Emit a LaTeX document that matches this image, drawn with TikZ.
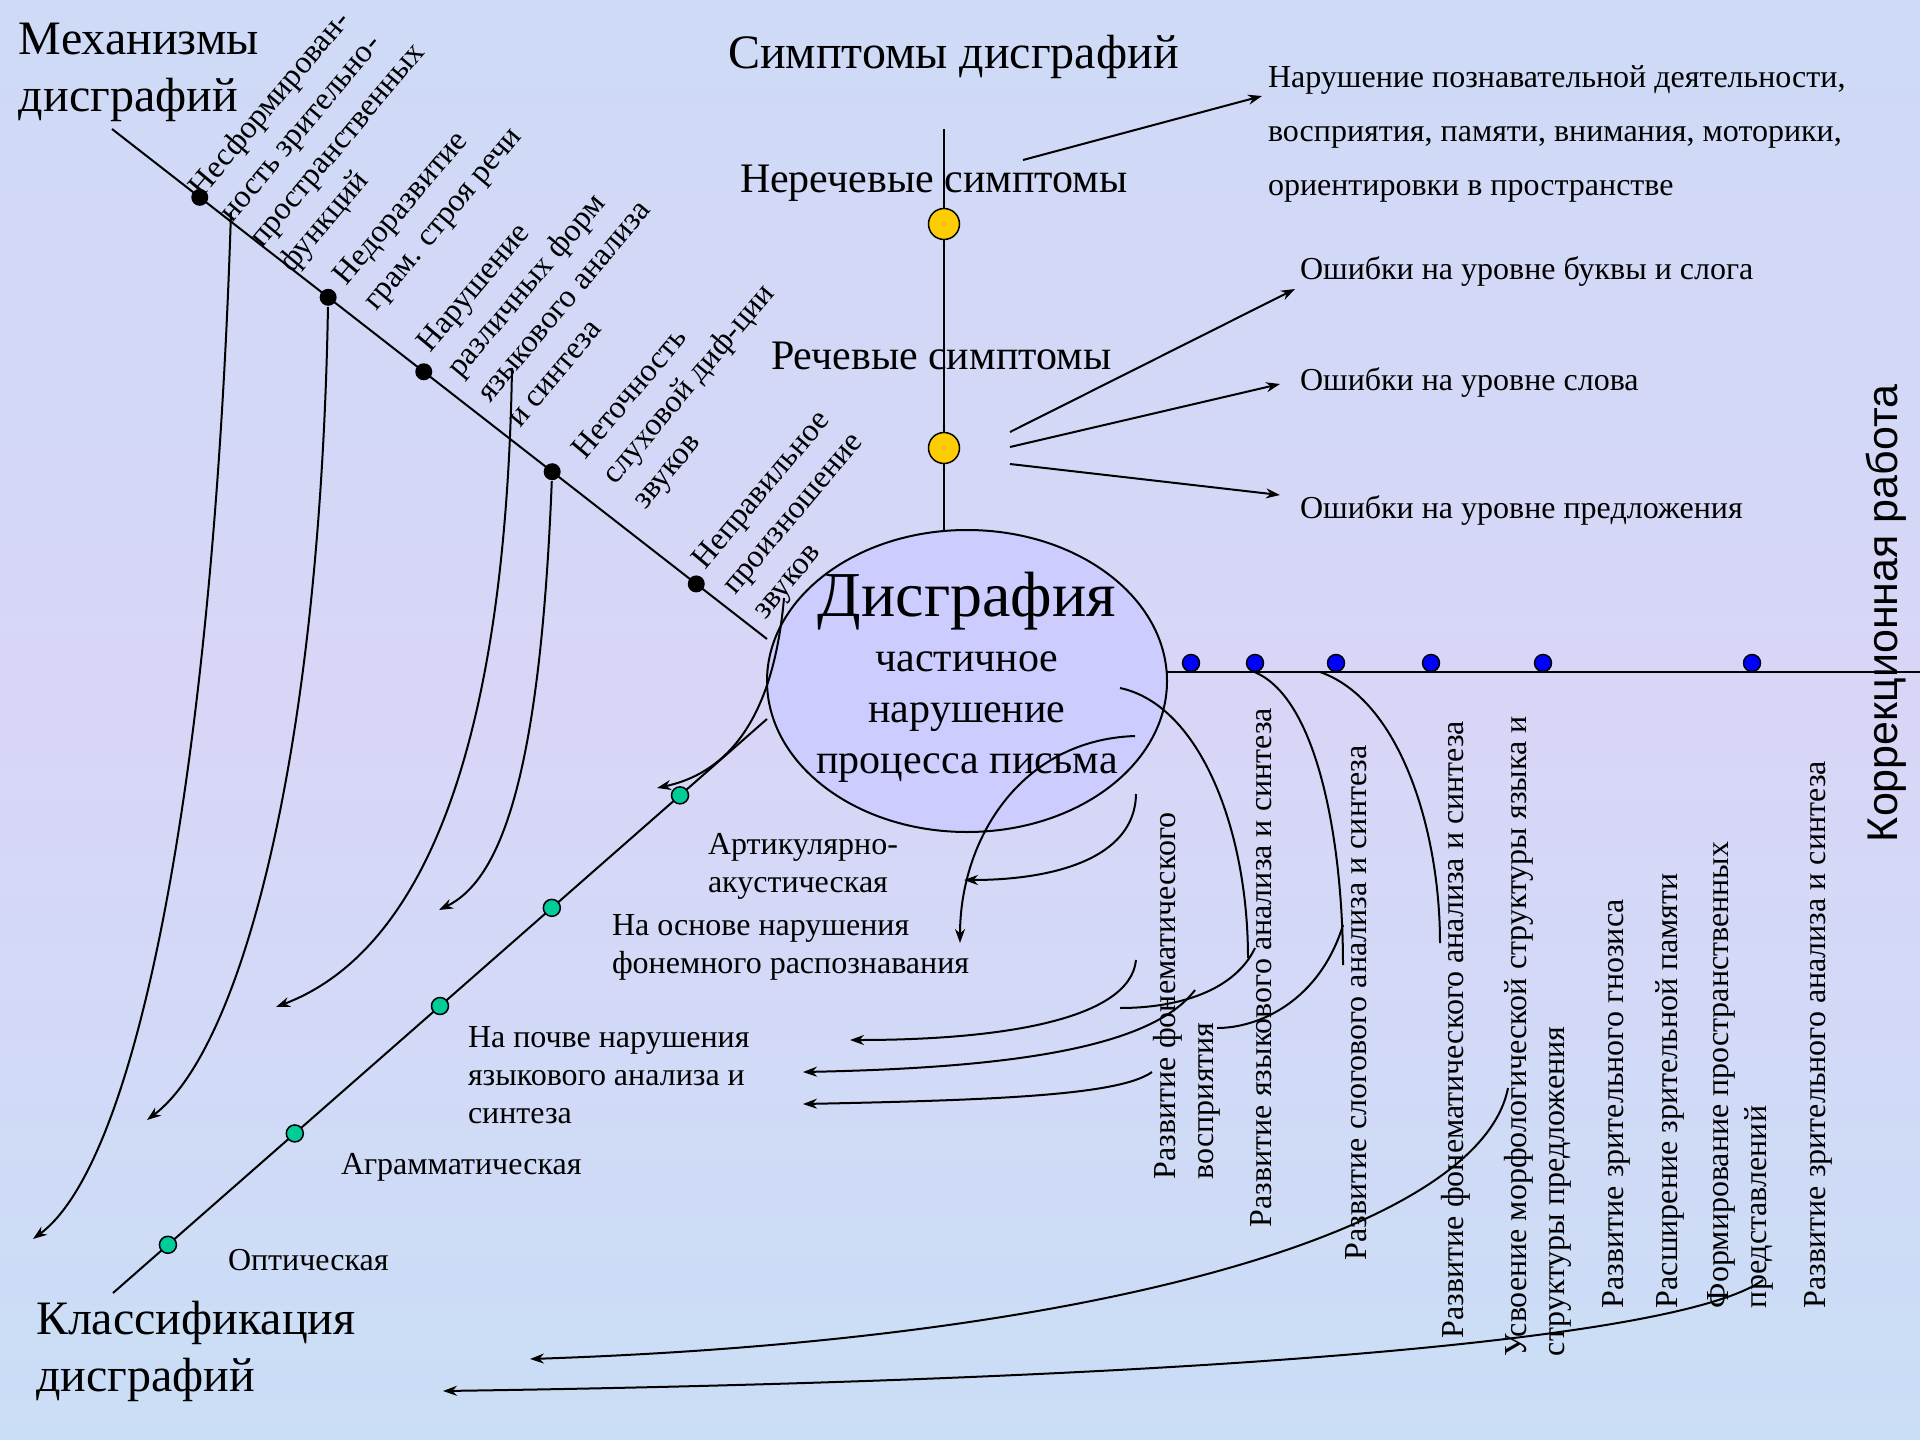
\documentclass[tikz,border=0pt]{standalone}
\usepackage{fontspec}
\setmainfont{Liberation Serif}
\newfontfamily\arialfont{Liberation Sans}
\usetikzlibrary{arrows.meta}
\usetikzlibrary{shapes.geometric}
\definecolor{bgtop}{RGB}{206,218,246}
\definecolor{bgmid}{RGB}{216,214,247}
\definecolor{bgbot}{RGB}{202,222,246}
\definecolor{lilac}{RGB}{204,204,255}
\definecolor{gold}{RGB}{255,204,0}
\definecolor{mint}{RGB}{0,204,153}
\tikzset{blackdot/.style = {circle, fill=black, inner sep=0pt, minimum size=17pt},
         greendot/.style = {circle, draw=black, line width=1.5pt, fill=mint, inner sep=0pt, minimum size=17pt},
         bluedot/.style = {circle, draw=black, line width=1.5pt, fill=blue, inner sep=0pt, minimum size=17pt},
         yellowdot/.style = {circle, draw=black, line width=1.5pt, fill=gold, inner sep=0pt, minimum size=31pt},
         title/.style = {inner sep=0pt, align=left, font=\fontsize{48}{57}\selectfont},
         mechlabel/.style = {rotate=50, anchor=north west, inner sep=0pt, align=left,
                             font=\fontsize{32}{39}\selectfont},
         classlabel/.style = {anchor=north west, inner sep=0pt, align=left,
                              font=\fontsize{32}{38}\selectfont},
         vlabel/.style = {rotate=90, inner sep=0pt, align=left,
                          font=\fontsize{32}{38}\selectfont}}

\begin{document}
\begin{tikzpicture}[x=1pt, y=-1pt, line width=2pt, >={Stealth[length=14pt,width=10pt]}]
    \shade[top color=bgtop, bottom color=bgbot, middle color=bgmid] (0,0) rectangle (1920,1440);
    \useasboundingbox (0,0) rectangle (1920,1440);

    \node[title, anchor=north west] (mechtitle) at (18,22) {Механизмы\\дисграфий};
    \node[title, anchor=north west] (classtitle) at (35,1300) {Классификация\\дисграфий};
    \node[title, anchor=base west] (symptitle) at (727,68) {Симптомы дисграфий};
    \node[rotate=90, anchor=base west, inner sep=0pt, font=\arialfont\fontsize{43}{50}\selectfont]
      (corrtitle) at (1897,843) {Коррекционная работа};

    \coordinate (mstart) at (112,129);
    \coordinate (mend) at (767,639);
    \draw (mstart) -- (mend)
      node[blackdot, pos=0.134] (m1) {}
      node[blackdot, pos=0.330] (m2) {}
      node[blackdot, pos=0.476] (m3) {}
      node[blackdot, pos=0.672] (m4) {}
      node[blackdot, pos=0.892] (m5) {};
    \node[mechlabel] (ml1) at (184,184) {Несформирован-\\ность зрительно-\\пространственных\\функций};
    \node[mechlabel] (ml2) at (329,273) {Недоразвитие\\грам. строя речи};
    \node[mechlabel] (ml3) at (413,340) {Нарушение\\различных форм\\языкового анализа\\и синтеза};
    \node[mechlabel] (ml4) at (568,447) {Неточность\\слуховой диф-ции\\звуков};
    \node[mechlabel] (ml5) at (688,557) {Неправильное\\произношение\\звуков};

    \coordinate (l1s) at (231,212);
    \coordinate (l1e) at (33,1239);
    \coordinate (l2e) at (147,1120);
    \coordinate (l3s) at (512,368);
    \coordinate (l3e) at (276,1007);
    \coordinate (l4e) at (439,910);
    \draw[->] (l1s) .. controls (214,760) and (140,1160) .. (l1e);
    \draw[->] (m2) .. controls (320,760) and (240,1050) .. (l2e);
    \draw[->] (l3s) .. controls (505,800) and (400,960) .. (l3e);
    \draw[->] (m4) .. controls (540,780) and (500,880) .. (l4e);

    \coordinate (vtop) at (944,129);
    \node[ellipse, minimum width=400pt, minimum height=302pt, inner sep=0pt] (dysg) at (967,681) {};
    \draw (vtop) -- (vtop |- dysg.center);
    \node[ellipse, draw, fill=lilac, minimum width=400pt, minimum height=302pt, inner sep=0pt] at (dysg) {};
    \node[anchor=base, inner sep=0pt, font=\fontsize{64}{70}\selectfont] (dtitle) at (967,616) {Дисграфия};
    \node[anchor=north, align=center, inner sep=0pt, font=\fontsize{42}{51}\selectfont]
      (dbody) at (967,651) {частичное\\нарушение\\процесса письма};

    \node[yellowdot] (y1) at (944,224) {};
    \node[yellowdot] (y2) at (944,448) {};
    \node[anchor=base west, inner sep=0pt, font=\fontsize{42}{50}\selectfont] (nonspeech) at (739,192) {Неречевые симптомы};
    \node[anchor=base west, inner sep=0pt, font=\fontsize{42}{50}\selectfont] (speech) at (770,369) {Речевые симптомы};
    \node[anchor=north west, inner sep=0pt, align=left, font=\fontsize{32}{54}\selectfont]
      (nonspeechtxt) at (1267,65)
      {Нарушение познавательной деятельности,\\восприятия, памяти, внимания, моторики,\\ориентировки в пространстве};
    \node[anchor=base west, inner sep=0pt, font=\fontsize{32}{38}\selectfont] (err1) at (1299,279) {Ошибки на уровне буквы и слога};
    \node[anchor=base west, inner sep=0pt, font=\fontsize{32}{38}\selectfont] (err2) at (1299,390) {Ошибки на уровне слова};
    \node[anchor=base west, inner sep=0pt, font=\fontsize{32}{38}\selectfont] (err3) at (1299,518) {Ошибки на уровне предложения};

    \coordinate (ns) at (1023,160);
    \coordinate (ne) at (1262,96);
    \coordinate (s1) at (1010,432);
    \coordinate (s2) at (1010,447);
    \coordinate (s3) at (1010,464);
    \coordinate (e1) at (1295,289);
    \coordinate (e2) at (1280,384);
    \coordinate (e3) at (1280,495);
    \draw[->] (ns) -- (ne);
    \draw[->] (s1) -- (e1);
    \draw[->] (s2) -- (e2);
    \draw[->] (s3) -- (e3);

    \coordinate (cstart) at (767,719);
    \coordinate (cend) at (113,1293);
    \draw (cstart) -- (cend)
      node[greendot, pos=0.133] (c1) {}
      node[greendot, pos=0.329] (c2) {}
      node[greendot, pos=0.500] (c3) {}
      node[greendot, pos=0.722] (c4) {}
      node[greendot, pos=0.916] (c5) {};
    \node[classlabel] (cl1) at (707,832) {Артикулярно-\\акустическая};
    \node[classlabel] (cl2) at (611,914) {На основе нарушения\\фонемного распознавания};
    \node[classlabel] (cl3) at (467,1026) {На почве нарушения\\языкового анализа и\\синтеза};
    \node[anchor=base west, inner sep=0pt, font=\fontsize{32}{38}\selectfont] (cl4) at (340,1174) {Аграмматическая};
    \node[anchor=base west, inner sep=0pt, font=\fontsize{32}{38}\selectfont] (cl5) at (227,1270) {Оптическая};

    \coordinate (es) at (784,598);
    \coordinate (ee) at (657,788);
    \draw[->] (es) .. controls (775,700) and (740,770) .. (ee);

    \coordinate (kstart) at (1167,672);
    \coordinate (kend) at (1920,672);
    \draw (kstart) -- (kend);
    \node[bluedot] (k1) at (1191,663) {};
    \node[bluedot] (k2) at (1255,663) {};
    \node[bluedot] (k3) at (1336,663) {};
    \node[bluedot] (k4) at (1431,663) {};
    \node[bluedot] (k5) at (1543,663) {};
    \node[bluedot] (k6) at (1752,663) {};

    \node[vlabel, anchor=north west] (kl1) at (1152,1180) {Развитие фонематического\\восприятия};
    \node[vlabel, anchor=base west] (kl2) at (1271,1228) {Развитие языкового анализа и синтеза};
    \node[vlabel, anchor=base west] (kl3) at (1366,1261) {Развитие слогового анализа и синтеза};
    \node[vlabel, anchor=base west] (kl4) at (1463,1339) {Развитие фонематического анализа и синтеза};
    \node[vlabel, anchor=north west] (kl5) at (1503,1357) {Усвоение морфологической структуры языка и\\структуры предложения};
    \node[vlabel, anchor=base west] (kl6) at (1623,1309) {Развитие зрительного гнозиса};
    \node[vlabel, anchor=base west] (kl7) at (1677,1309) {Расширение зрительной памяти};
    \node[vlabel, anchor=north west] (kl8) at (1707,1309) {Формирование пространственных\\представлений};
    \node[vlabel, anchor=base west] (kl9) at (1825,1309) {Развитие зрительного анализа и синтеза};

    \coordinate (c1s) at (1120,688);
    \coordinate (c1e) at (1248,958);
    \coordinate (h1s) at (1255,948);
    \coordinate (h1e) at (1120,1008);
    \coordinate (d2e) at (1343,965);
    \coordinate (h2s) at (1343,925);
    \coordinate (h2e) at (1217,1028);
    \coordinate (d3s) at (1320,672);
    \coordinate (d3e) at (1440,943);
    \draw (c1s) .. controls (1200,705) and (1248,830) .. (c1e);
    \draw (h1s) .. controls (1235,990) and (1180,1008) .. (h1e);
    \draw (k2.south) .. controls (1320,700) and (1343,850) .. (d2e);
    \draw (h2s) .. controls (1320,1000) and (1260,1028) .. (h2e);
    \draw (d3s) .. controls (1400,700) and (1440,830) .. (d3e);

    \coordinate (a1s) at (1135,736);
    \coordinate (a1e) at (960,943);
    \coordinate (a2s) at (1136,794);
    \coordinate (a2e) at (964,880);
    \coordinate (b1s) at (1136,960);
    \coordinate (b1e) at (850,1040);
    \coordinate (b2s) at (1195,990);
    \coordinate (b2e) at (803,1072);
    \coordinate (b3s) at (1152,1072);
    \coordinate (b3e) at (803,1104);
    \draw[->] (a1s) .. controls (1020,740) and (960,840) .. (a1e);
    \draw[->] (a2s) .. controls (1135,860) and (1050,880) .. (a2e);
    \draw[->] (b1s) .. controls (1130,1020) and (1000,1040) .. (b1e);
    \draw[->] (b2s) .. controls (1150,1050) and (1000,1068) .. (b2e);
    \draw[->] (b3s) .. controls (1120,1095) and (1000,1100) .. (b3e);

    \coordinate (f1s) at (1508,1088);
    \coordinate (f1e) at (530,1359);
    \coordinate (f2s) at (1763,1280);
    \coordinate (f2e) at (443,1391);
    \draw[->] (f1s) .. controls (1480,1230) and (1100,1340) .. (f1e);
    \draw[->] (f2s) .. controls (1680,1340) and (1200,1380) .. (f2e);
  \end{tikzpicture}
\end{document}
